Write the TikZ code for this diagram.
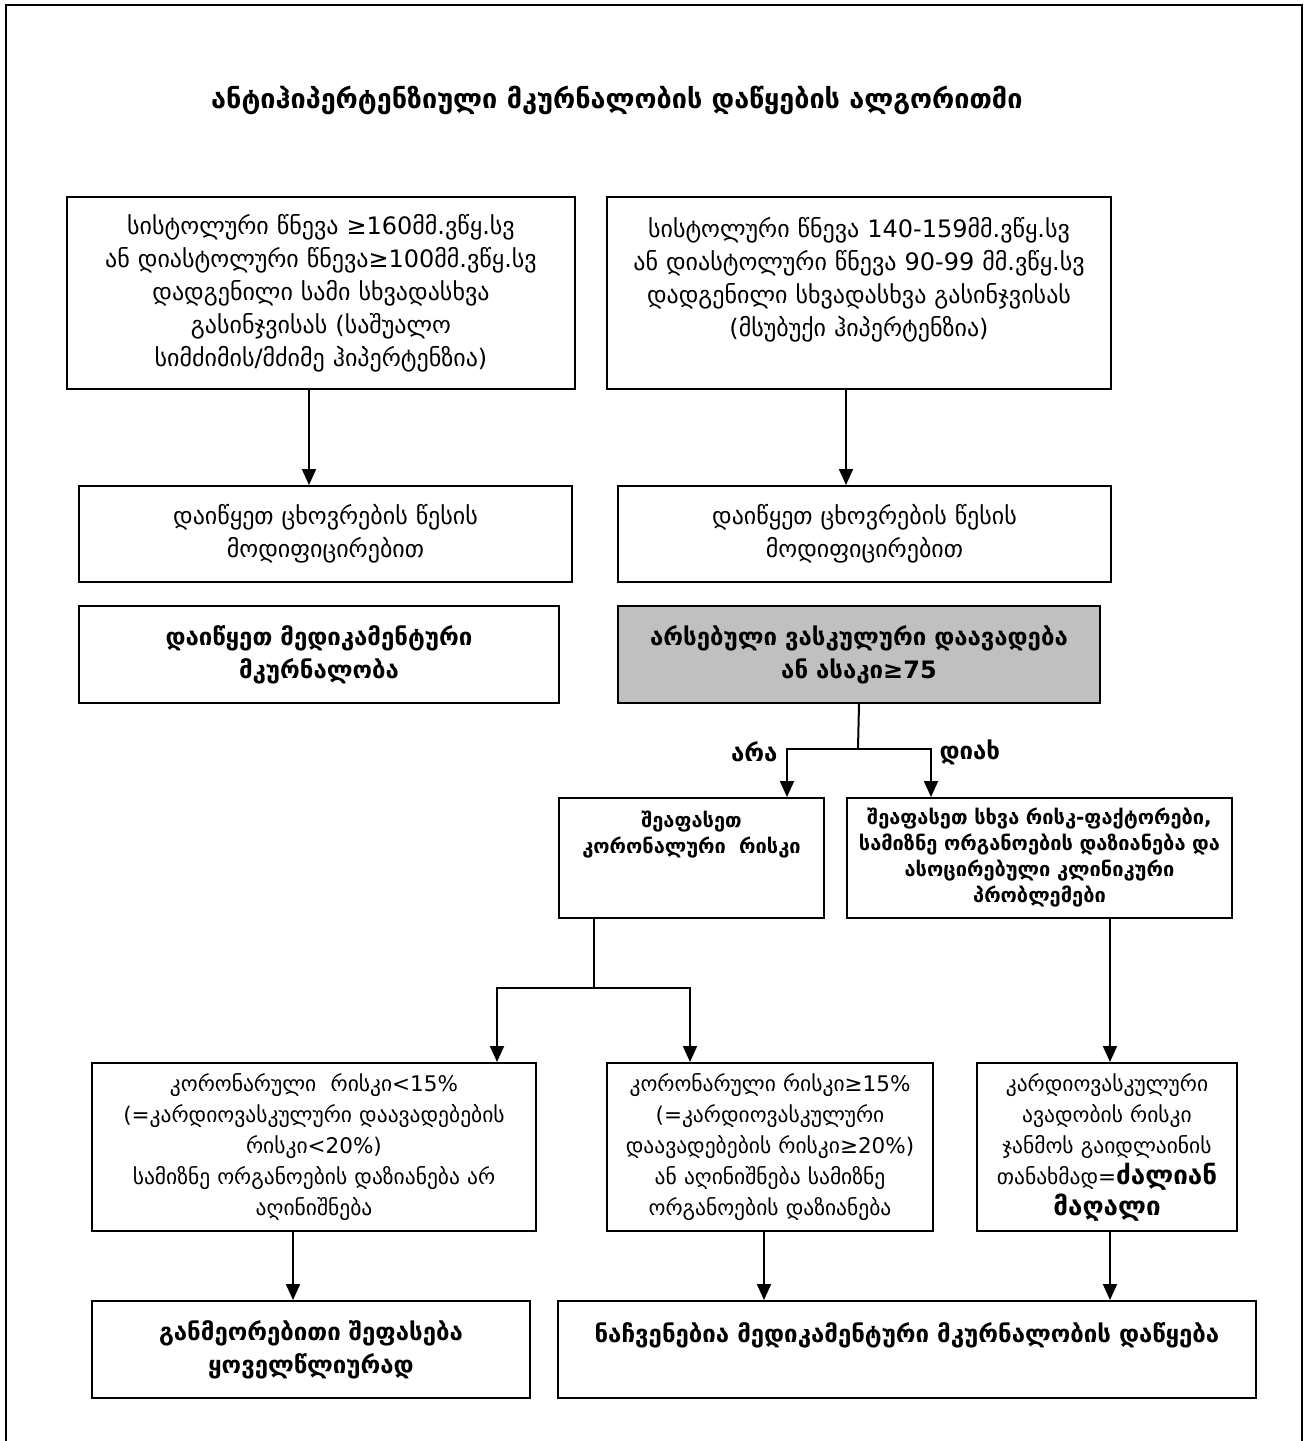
\documentclass[tikz,border=0pt]{standalone}
\usepackage{fontspec}
\setmainfont{DejaVu Sans}
\usetikzlibrary{arrows.meta,positioning}
\definecolor{boxgray}{RGB}{192,192,192}
\newcommand{\loudtext}[1]{{\bfseries\fontsize{26}{32}\selectfont #1}}

\begin{document}
\begin{tikzpicture}[x=1pt,y=-1pt]
    \tikzset{
        box/.style={draw, line width=2pt, inner sep=0pt, align=center, anchor=north west},
        plain/.style={font=\fontsize{24}{33}\selectfont},
        strong/.style={font=\bfseries\fontsize{24}{33}\selectfont},
        tight/.style={font=\bfseries\fontsize{20}{26}\selectfont},
        small/.style={font=\fontsize{21.5}{31}\selectfont},
        link/.style={line width=2pt},
        arr/.style={line width=2pt, -{Triangle[width=14pt,length=16pt]}}
    }
    \useasboundingbox (0,0) rectangle (1309,1441);
    \draw[link] (6,1441) -- (6,5) -- (1302,5) -- (1302,1441);

    \node[font=\bfseries\fontsize{27}{32}\selectfont] (title) at (617,100)
        {ანტიჰიპერტენზიული მკურნალობის დაწყების ალგორითმი};

    % blood pressure
    \node[box, plain, minimum width=508pt, minimum height=192pt, text width=500pt] (b1) at (66,196)
        {სისტოლური წნევა ≥160მმ.ვწყ.სვ\\ ან დიასტოლური წნევა≥100მმ.ვწყ.სვ\\ დადგენილი სამი სხვადასხვა\\ გასინჯვისას (საშუალო\\ სიმძიმის/მძიმე ჰიპერტენზია)};
    \node[box, plain, minimum width=504pt, minimum height=192pt, text width=496pt] (b2) at (606,196)
        {სისტოლური წნევა 140-159მმ.ვწყ.სვ\\ ან დიასტოლური წნევა 90-99 მმ.ვწყ.სვ\\ დადგენილი სხვადასხვა გასინჯვისას\\ (მსუბუქი ჰიპერტენზია)\\ ~};

    \node[box, plain, minimum width=493pt, minimum height=96pt, text width=485pt] (b3) at (78,485)
        {დაიწყეთ ცხოვრების წესის\\ მოდიფიცირებით};
    \node[box, plain, minimum width=493pt, minimum height=96pt, text width=485pt] (b4) at (617,485)
        {დაიწყეთ ცხოვრების წესის\\ მოდიფიცირებით};

    \node[box, strong, minimum width=480pt, minimum height=97pt, text width=472pt] (b5) at (78,605)
        {დაიწყეთ მედიკამენტური\\ მკურნალობა};
    \node[box, strong, fill=boxgray, minimum width=482pt, minimum height=97pt, text width=474pt] (b6) at (617,605)
        {არსებული ვასკულური დაავადება\\ ან ასაკი≥75};

    % risk
    \node[box, tight, minimum width=265pt, minimum height=120pt, text width=257pt] (b7) at (558,797)
        {შეაფასეთ\\ კორონალური~ რისკი\\ ~\\ ~};
    \node[box, tight, minimum width=385pt, minimum height=120pt, text width=377pt] (b8) at (846,797)
        {შეაფასეთ სხვა რისკ-ფაქტორები,\\ სამიზნე ორგანოების დაზიანება და\\ ასოცირებული კლინიკური\\ პრობლემები};

    \node[box, small, minimum width=444pt, minimum height=168pt, text width=436pt] (b9) at (91,1062)
        {კორონარული~ რისკი<15\%\\ (=კარდიოვასკულური დაავადებების\\ რისკი<20\%)\\ სამიზნე ორგანოების დაზიანება არ\\ აღინიშნება};
    \node[box, small, minimum width=326pt, minimum height=168pt, text width=318pt] (b10) at (606,1062)
        {კორონარული რისკი≥15\%\\ (=კარდიოვასკულური\\ დაავადებების რისკი≥20\%)\\ ან აღინიშნება სამიზნე\\ ორგანოების დაზიანება};
    \node[box, small, minimum width=260pt, minimum height=168pt, text width=256pt] (b11) at (976,1062)
        {კარდიოვასკულური\\ ავადობის რისკი\\ ჯანმოს გაიდლაინის\\ თანახმად=\loudtext{ძალიან}\\ \loudtext{მაღალი}};

    \node[box, strong, minimum width=438pt, minimum height=97pt, text width=430pt] (b12) at (91,1300)
        {განმეორებითი შეფასება\\ ყოველწლიურად};
    \node[box, strong, minimum width=698pt, minimum height=97pt, text width=690pt] (b13) at (557,1300)
        {ნაჩვენებია მედიკამენტური მკურნალობის დაწყება\\ ~};

    \node[strong, anchor=east] (no) at (781,752) {არა};
    \node[strong, anchor=west] (yes) at (936,752) {დიახ};

    % connectors
    \draw[arr] (b1.south -| 309,0) -- (b3.north -| 309,0);
    \draw[arr] (b2.south -| 846,0) -- (b4.north -| 846,0);
    \draw[link] (b6.south) -- (858,749) coordinate (fork1);
    \draw[arr] (fork1) -| (b7.north -| 787,0);
    \draw[arr] (fork1) -| (b8.north -| 931,0);
    \draw[link] (b7.south -| 594,0) -- (594,988) coordinate (fork2);
    \draw[arr] (fork2) -| (b9.north -| 497,0);
    \draw[arr] (fork2) -| (b10.north -| 690,0);
    \draw[arr] (b8.south -| 1110,0) -- (b11.north -| 1110,0);
    \draw[arr] (b9.south -| 293,0) -- (b12.north -| 293,0);
    \draw[arr] (b10.south -| 764,0) -- (b13.north -| 764,0);
    \draw[arr] (b11.south -| 1110,0) -- (b13.north -| 1110,0);
\end{tikzpicture}
\end{document}
